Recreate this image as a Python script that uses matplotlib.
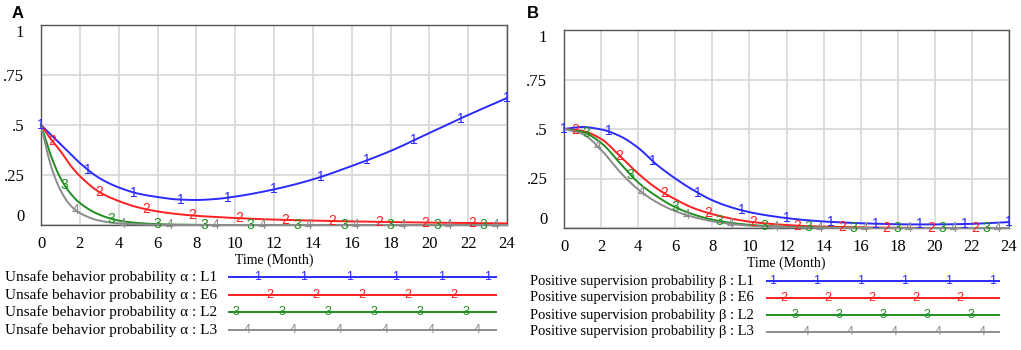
import numpy as np
import matplotlib
matplotlib.use('Agg')
import matplotlib.pyplot as plt

# Data
months_a = [0, 0.5, 1, 1.5, 2, 3, 4, 5, 6, 7, 8, 9, 10, 12, 14, 16, 18, 20, 22, 24]
alpha_L1 = [0.5, 0.452, 0.405, 0.357, 0.31, 0.235, 0.188, 0.157, 0.14, 0.128, 0.125, 0.13, 0.142,
            0.178, 0.228, 0.295, 0.37, 0.46, 0.55, 0.635]
alpha_E6 = [0.5, 0.43, 0.37, 0.30, 0.245, 0.165, 0.12, 0.088, 0.068, 0.055, 0.046, 0.04, 0.035,
            0.027, 0.022, 0.018, 0.015, 0.012, 0.01, 0.008]
alpha_L2 = [0.5, 0.35, 0.235, 0.16, 0.11, 0.052, 0.022, 0.01, 0.004, 0.002, 0.001, 0.0, 0.0,
            0.0, 0.0, 0.0, 0.0, 0.0, 0.0, 0.0]
alpha_L3 = [0.5, 0.3, 0.175, 0.1, 0.06, 0.022, 0.008, 0.003, 0.001, 0.0, 0.0, 0.0, 0.0,
            0.0, 0.0, 0.0, 0.0, 0.0, 0.0, 0.0]

months_b = list(range(25))
beta_L1 = [0.5, 0.51, 0.498, 0.465, 0.405, 0.32, 0.25, 0.19, 0.14, 0.105, 0.08, 0.063, 0.05,
           0.04, 0.033, 0.028, 0.024, 0.021, 0.019, 0.018, 0.018, 0.019, 0.021, 0.025, 0.03]
beta_E6 = [0.5, 0.49, 0.45, 0.365, 0.275, 0.2, 0.145, 0.1, 0.07, 0.048, 0.032, 0.022, 0.015,
           0.01, 0.007, 0.005, 0.003, 0.002, 0.001, 0.001, 0.0, 0.0, 0.0, 0.0, 0.0]
beta_L2 = [0.5, 0.485, 0.43, 0.33, 0.23, 0.16, 0.105, 0.068, 0.042, 0.026, 0.016, 0.01, 0.006,
           0.004, 0.002, 0.001, 0.0, 0.0, 0.0, 0.0, 0.0, 0.0, 0.0, 0.0, 0.0]
beta_L3 = [0.5, 0.475, 0.395, 0.285, 0.195, 0.13, 0.085, 0.055, 0.034, 0.02, 0.012, 0.007, 0.004,
           0.002, 0.001, 0.0, 0.0, 0.0, 0.0, 0.0, 0.0, 0.0, 0.0, 0.0, 0.0]

series_tags = ['L1', 'E6', 'L2', 'L3']
colors = ['#2b2bff', '#ff1f1f', '#1f8f1f', '#8c8c8c']

W, H = 1021, 350
fig = plt.figure(figsize=(W / 100, H / 100), dpi=100)
serif = 'Liberation Serif'


def pchip(x, y, xn):
    # monotone cubic interpolation so the curves look smooth like the original
    x = np.asarray(x, float)
    y = np.asarray(y, float)
    h = np.diff(x)
    d = np.diff(y) / h
    m = np.zeros_like(y)
    m[0], m[-1] = d[0], d[-1]
    for k in range(1, len(x) - 1):
        if d[k - 1] * d[k] > 0:
            w1 = 2 * h[k] + h[k - 1]
            w2 = h[k] + 2 * h[k - 1]
            m[k] = (w1 + w2) / (w1 / d[k - 1] + w2 / d[k])
    idx = np.clip(np.searchsorted(x, xn) - 1, 0, len(x) - 2)
    s = (xn - x[idx]) / h[idx]
    h00 = 2 * s**3 - 3 * s**2 + 1
    h10 = s**3 - 2 * s**2 + s
    h01 = -2 * s**3 + 3 * s**2
    h11 = s**3 - s**2
    return h00 * y[idx] + h10 * h[idx] * m[idx] + h01 * y[idx + 1] + h11 * h[idx] * m[idx + 1]


def px_axes(left, top, right, bottom):
    return fig.add_axes([left / W, 1 - bottom / H, (right - left) / W, (bottom - top) / H])


def panel(ax, t, ys):
    ax.set_xlim(0, 24)
    ax.set_ylim(0, 1)
    ax.set_xticks(range(0, 25, 2))
    ax.set_yticks([0, 0.25, 0.5, 0.75, 1])
    ax.set_yticklabels(['0', '.25', '.5', '.75', '1'])
    ax.grid(True, color='#d9d9d9', linewidth=1.3)
    ax.set_axisbelow(True)
    ax.tick_params(length=0, labelsize=12, pad=8)
    ax.tick_params(axis='y', pad=12)
    for lab in ax.get_xticklabels() + ax.get_yticklabels():
        lab.set_fontfamily(serif)
    ylabs = ax.get_yticklabels()
    ylabs[0].set_va('bottom')
    ylabs[-1].set_va('top')
    for s in ax.spines.values():
        s.set_color('#555555')
        s.set_linewidth(1.0)
    ax.set_xlabel('Time (Month)', fontsize=10, family=serif, labelpad=1)
    tt = np.linspace(0, 24, 400)
    for i, y in enumerate(ys):
        ax.plot(tt, pchip(t, y, tt), color=colors[i], lw=1.4, clip_on=False, zorder=3)
        for m in np.arange(0.6 * i, 24.01, 2.4):
            ax.text(m, pchip(t, y, np.array([m]))[0], str(i + 1), color=colors[i], fontsize=10,
                    family='Liberation Sans', ha='center', va='center', zorder=4)


ax_a = px_axes(41, 25, 507, 225)
panel(ax_a, months_a, [alpha_L1, alpha_E6, alpha_L2, alpha_L3])
ax_b = px_axes(564, 30, 1009, 228)
panel(ax_b, months_b, [beta_L1, beta_E6, beta_L2, beta_L3])

# overlay in pixel coordinates for panel letters and legends
ov = fig.add_axes([0, 0, 1, 1])
ov.set_xlim(0, W)
ov.set_ylim(H, 0)
ov.axis('off')
ov.text(12, 14, 'A', fontsize=12, fontweight='bold', family='Liberation Sans', va='center')
ov.text(527, 13, 'B', fontsize=12, fontweight='bold', family='Liberation Sans', va='center')

legends = [
    ('Unsafe behavior probability \u03b1 : ', 5, 11, 229, 496, [277, 295, 312, 330], [258, 270, 236, 247], 46),
    ('Positive supervision probability \u03b2 : ', 530, 10.5, 767, 999, [281, 298, 315, 332], [773, 784, 795, 806], 44),
]
for name, tx, fs, x0, x1, rows, starts, step in legends:
    for i, tag in enumerate(series_tags):
        yy = rows[i]
        ov.text(tx, yy, name + tag, fontsize=fs, family=serif, va='center', ha='left')
        ov.plot([x0, x1], [yy, yy], color=colors[i], lw=1.4)
        for xm in np.arange(starts[i], x1 + 1, step):
            ov.text(xm, yy, str(i + 1), color=colors[i], fontsize=9,
                    family='Liberation Sans', ha='center', va='center')

fig.savefig('out.png', dpi=100)
